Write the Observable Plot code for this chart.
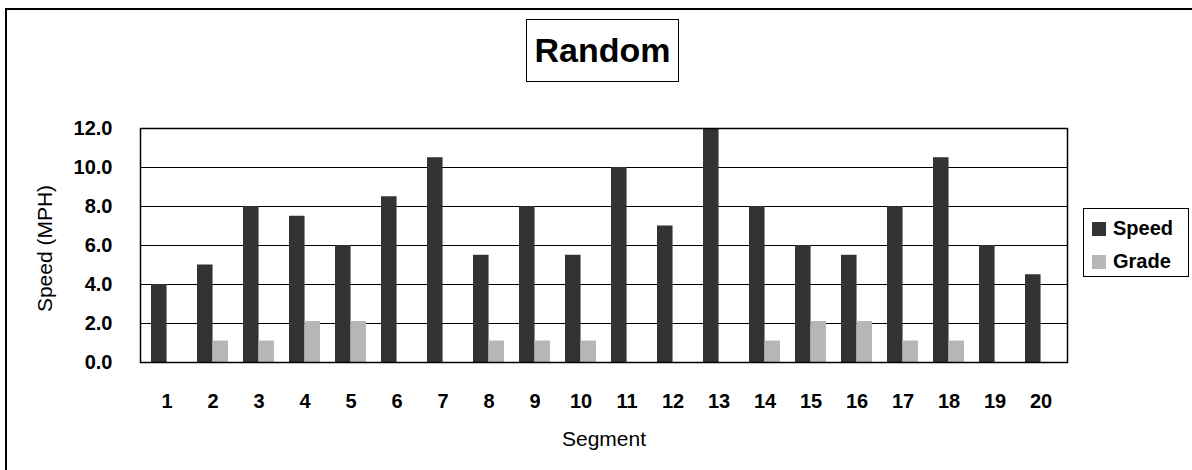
<!DOCTYPE html>
<html>
<head>
<meta charset="utf-8">
<script src="https://cdn.jsdelivr.net/npm/d3@7"></script>
<script src="https://cdn.jsdelivr.net/npm/@observablehq/plot@0.6"></script>
<style>
  html, body { margin: 0; padding: 0; background: #fff; overflow: hidden; }
  #wrap { position: relative; width: 1192px; height: 470px; overflow: hidden; font-family: "Liberation Sans", Arial, sans-serif; }
  #outer { position: absolute; left: 5px; top: 8px; width: 1300px; height: 600px; border: 2px solid #000; box-sizing: border-box; }
  #title { position: absolute; left: 526px; top: 19px; width: 153px; height: 63px; border: 1px solid #000; box-sizing: border-box;
           font-weight: bold; font-size: 34px; display: flex; align-items: center; justify-content: center; background: #fff; }
  #legend { position: absolute; left: 1083px; top: 208px; width: 106px; height: 69px; border: 1px solid #000; box-sizing: border-box; background: #fff; }
  .li { position: absolute; left: 8px; display: flex; align-items: center; font-weight: bold; font-size: 20px; }
  .sw { width: 14px; height: 14px; margin-right: 7px; }
  #chart { position: absolute; left: 0; top: 0; }
</style>
</head>
<body>
<div id="wrap">
  <div id="chart"></div>
  <div id="outer"></div>
  <div id="title">Random</div>
  <div id="legend"></div>
</div>
<script>
// ---- data ----
const segments = ["1","2","3","4","5","6","7","8","9","10","11","12","13","14","15","16","17","18","19","20"];
const speed = [4.0, 5.0, 8.0, 7.5, 6.0, 8.5, 10.5, 5.5, 8.0, 5.5, 10.0, 7.0, 12.0, 8.0, 6.0, 5.5, 8.0, 10.5, 6.0, 4.5];
const grade = [0, 1.1, 1.1, 2.1, 2.1, 0, 0, 1.1, 1.1, 1.1, 0, 0, 0, 1.1, 2.1, 2.1, 1.1, 1.1, 0, 0];
const yTicks = [0, 2, 4, 6, 8, 10, 12];
const seriesNames = ["Speed", "Grade"];
const seriesColors = ["#333333", "#b6b6b6"];

const rows = [];
segments.forEach((s, i) => {
  rows.push({segment: s, series: "Speed", value: speed[i]});
  if (grade[i] > 0) rows.push({segment: s, series: "Grade", value: grade[i]});
});

const W = 1192, H = 470;
const mL = 140, mR = 125, mT = 128, mB = 108;
const pInner = 1/3, pOuter = 1/6;
const step = (W - mL - mR) / (segments.length - pInner + 2 * pOuter);
const half = step * (1 - pInner) / 2;

const chart = Plot.plot({
  width: W,
  height: H,
  marginLeft: mL,
  marginRight: mR,
  marginTop: mT,
  marginBottom: mB,
  style: {fontFamily: "'Liberation Sans', Arial, sans-serif", background: "transparent", color: "#000"},
  x: {type: "band", domain: segments, paddingInner: pInner, paddingOuter: pOuter},
  y: {domain: [0, 12]},
  color: {domain: seriesNames, range: seriesColors},
  marks: [
    Plot.gridY(yTicks, {stroke: "#000", strokeOpacity: 1, strokeWidth: 1}),
    Plot.barY(rows.filter(d => d.series === "Speed"), {x: "segment", y: "value", fill: "series", insetRight: half}),
    Plot.barY(rows.filter(d => d.series === "Grade"), {x: "segment", y: "value", fill: "series", insetLeft: half}),
    Plot.frame({stroke: "#000", strokeWidth: 1.5}),
    Plot.axisY(yTicks, {tickFormat: d => d.toFixed(1), tickSize: 0, tickPadding: 28, fontSize: 20, fontWeight: "bold", label: null}),
    Plot.axisX({tickSize: 0, tickPadding: 31, fontSize: 20, fontWeight: "bold", label: null}),
    Plot.text(["Speed (MPH)"], {frameAnchor: "left", dx: -95, dy: 3, rotate: -90, fontSize: 21, textAnchor: "middle", lineAnchor: "middle"}),
    Plot.text(["Segment"], {frameAnchor: "bottom", dy: 83, fontSize: 21, textAnchor: "middle", lineAnchor: "bottom"})
  ]
});
document.getElementById("chart").appendChild(chart);

// legend
const leg = document.getElementById("legend");
seriesNames.forEach((n, i) => {
  const it = document.createElement("div");
  it.className = "li";
  it.style.top = (i === 0 ? 8 : 41) + "px";
  it.innerHTML = `<span class="sw" style="background:${seriesColors[i]}"></span><span>${n}</span>`;
  leg.appendChild(it);
});
</script>
</body>
</html>
